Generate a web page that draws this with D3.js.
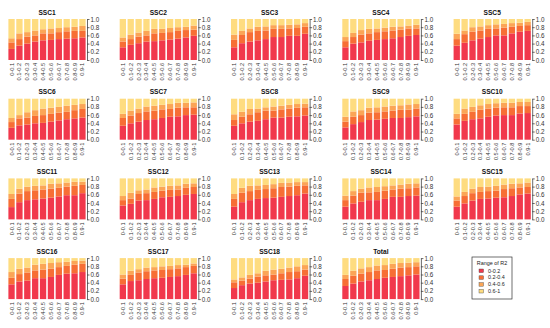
<!DOCTYPE html>
<html>
<head>
<meta charset="utf-8">
<script src="https://cdn.jsdelivr.net/npm/d3@7"></script>
<style>
  body { margin: 0; background: #fff; }
  text { font-family: "Liberation Sans", Arial, sans-serif; }
</style>
</head>
<body>
<div id="chart"></div>
<script>
var svgWidth = 550;
var svgHeight = 328;

// categories on the x axis of every panel
var cats = ["0-0.1", "0.1-0.2", "0.2-0.3", "0.3-0.4", "0.4-0.5",
            "0.5-0.6", "0.6-0.7", "0.7-0.8", "0.8-0.9", "0.9-1"];
var panels = ["SSC1", "SSC2", "SSC3", "SSC4", "SSC5", "SSC6", "SSC7", "SSC8", "SSC9", "SSC10",
              "SSC11", "SSC12", "SSC13", "SSC14", "SSC15", "SSC16", "SSC17", "SSC18", "Total"];
var legendKeys = ["0-0.2", "0.2-0.4", "0.4-0.6", "0.6-1"];
var colors = ["#f1384c", "#f76e35", "#fba556", "#fedc80"];
var yTicks = [0, 0.2, 0.4, 0.6, 0.8, 1.0];

// cumulative share of R2 up to 0.2 (one row per panel, same order as panels)
var le02 = [
  [.27,.35,.40,.45,.48,.49,.51,.52,.53,.55],
  [.31,.37,.41,.45,.46,.48,.50,.52,.55,.59],
  [.31,.41,.45,.48,.51,.56,.56,.59,.59,.64],
  [.31,.40,.43,.47,.49,.51,.53,.56,.59,.61],
  [.35,.42,.48,.52,.56,.60,.60,.65,.69,.71],
  [.29,.35,.37,.40,.41,.44,.47,.50,.52,.54],
  [.34,.40,.44,.48,.50,.53,.56,.57,.60,.61],
  [.34,.40,.44,.46,.50,.54,.54,.56,.57,.59],
  [.30,.38,.43,.48,.49,.51,.53,.53,.55,.57],
  [.37,.46,.50,.52,.56,.59,.60,.60,.64,.65],
  [.30,.42,.47,.49,.51,.53,.56,.59,.59,.64],
  [.34,.38,.46,.47,.50,.54,.55,.57,.60,.62],
  [.31,.42,.47,.50,.52,.53,.55,.57,.59,.63],
  [.31,.39,.43,.47,.47,.50,.55,.55,.57,.58],
  [.31,.39,.46,.50,.51,.53,.54,.57,.61,.63],
  [.36,.43,.45,.51,.51,.54,.59,.62,.63,.66],
  [.36,.44,.46,.49,.51,.52,.54,.56,.59,.63],
  [.27,.34,.38,.40,.43,.46,.47,.48,.51,.57],
  [.32,.38,.43,.46,.49,.52,.54,.56,.58,.60]
];
// cumulative share up to 0.4
var le04 = [
  [.43,.51,.57,.60,.65,.65,.68,.70,.71,.71],
  [.45,.51,.57,.60,.65,.66,.68,.71,.73,.74],
  [.49,.61,.68,.71,.72,.76,.76,.77,.78,.81],
  [.46,.56,.62,.65,.68,.70,.72,.74,.77,.77],
  [.51,.63,.69,.72,.76,.77,.79,.81,.83,.85],
  [.43,.52,.54,.58,.60,.63,.66,.68,.72,.75],
  [.53,.59,.65,.69,.71,.74,.75,.78,.79,.79],
  [.48,.56,.62,.67,.71,.71,.74,.76,.78,.79],
  [.44,.56,.60,.66,.67,.69,.71,.73,.73,.76],
  [.52,.63,.68,.73,.76,.78,.79,.79,.82,.82],
  [.50,.63,.69,.71,.73,.75,.77,.80,.82,.84],
  [.47,.51,.62,.64,.67,.70,.72,.73,.77,.79],
  [.50,.65,.69,.72,.74,.76,.79,.80,.82,.83],
  [.47,.58,.65,.66,.67,.70,.73,.75,.76,.78],
  [.46,.57,.64,.67,.69,.70,.74,.76,.78,.79],
  [.52,.61,.65,.70,.72,.74,.78,.81,.84,.86],
  [.50,.59,.65,.68,.70,.71,.73,.75,.78,.81],
  [.41,.45,.50,.55,.58,.60,.63,.66,.68,.72],
  [.49,.57,.62,.66,.70,.71,.74,.77,.78,.80]
];
// cumulative share up to 0.6 (the rest, up to 1, is 0.6-1)
var le06 = [
  [.53,.65,.68,.72,.75,.77,.78,.80,.81,.83],
  [.55,.62,.67,.71,.76,.76,.78,.80,.81,.84],
  [.62,.71,.77,.81,.82,.85,.85,.86,.87,.90],
  [.56,.66,.73,.76,.77,.79,.81,.82,.84,.86],
  [.64,.72,.80,.82,.85,.87,.88,.90,.91,.93],
  [.53,.60,.67,.72,.76,.78,.80,.83,.85,.87],
  [.63,.71,.76,.81,.83,.85,.87,.90,.90,.91],
  [.62,.68,.75,.76,.79,.81,.83,.85,.87,.88],
  [.56,.69,.72,.78,.79,.81,.83,.84,.86,.87],
  [.63,.76,.80,.84,.87,.89,.90,.90,.92,.92],
  [.62,.75,.80,.82,.83,.87,.88,.90,.92,.92],
  [.57,.65,.71,.73,.78,.80,.82,.83,.87,.88],
  [.62,.77,.82,.83,.84,.86,.89,.90,.91,.91],
  [.58,.69,.75,.78,.79,.81,.83,.85,.87,.88],
  [.56,.67,.75,.79,.80,.82,.85,.87,.88,.90],
  [.66,.74,.77,.84,.86,.88,.90,.91,.93,.94],
  [.60,.69,.73,.77,.78,.80,.81,.83,.84,.87],
  [.48,.53,.59,.63,.69,.72,.74,.77,.80,.83],
  [.59,.69,.75,.78,.82,.83,.86,.88,.89,.90]
];

// panel grid
var nCols = 5;
var left0 = 8, colStep = 111.3;
var top0 = 19, rowStep = 79.7;
var plotW = 78, plotH = 41;

var svg = d3.select("#chart")
  .append("svg")
  .attr("width", svgWidth)
  .attr("height", svgHeight);

var xScale = d3.scaleBand()
  .domain(cats)
  .range([0, plotW])
  .paddingInner(0.2)
  .paddingOuter(0.05);

var yScale = d3.scaleLinear()
  .domain([0, 1])
  .range([plotH, 0]);

panels.forEach(function(name, i) {
  var col = i % nCols;
  var row = Math.floor(i / nCols);
  var g = svg.append("g")
    .attr("transform", `translate(${left0 + col * colStep}, ${top0 + row * rowStep})`);

  // build layer bounds for this panel
  var rows = cats.map(function(c, j) {
    var b = [0, le02[i][j], le04[i][j], le06[i][j], 1];
    return { cat: c, bounds: b };
  });

  legendKeys.forEach(function(k, li) {
    g.selectAll(".bar" + li)
      .data(rows)
      .enter()
      .append("rect")
      .attr("x", d => xScale(d.cat))
      .attr("width", xScale.bandwidth())
      .attr("y", d => yScale(d.bounds[li + 1]))
      .attr("height", d => yScale(d.bounds[li]) - yScale(d.bounds[li + 1]))
      .attr("fill", colors[li]);
  });

  // right axis
  var rightAxis = d3.axisRight(yScale)
    .tickValues(yTicks)
    .tickFormat(d3.format(".1f"))
    .tickSize(2.5)
    .tickSizeOuter(0);
  var ax = g.append("g")
    .attr("transform", `translate(${plotW + 1}, 0)`)
    .call(rightAxis);
  ax.select(".domain").attr("stroke", "#444").attr("stroke-width", 0.8);
  ax.selectAll(".tick line").attr("stroke", "#444").attr("stroke-width", 0.8);
  ax.selectAll(".tick text")
    .attr("x", 3.5)
    .attr("fill", "#333")
    .style("font-size", "6.3px");

  // x labels, rotated
  g.selectAll(".xlab")
    .data(cats)
    .enter()
    .append("text")
    .attr("transform", d => `translate(${xScale(d) + xScale.bandwidth() / 2 + 2}, ${plotH + 3}) rotate(-90)`)
    .attr("text-anchor", "end")
    .attr("fill", "#333")
    .style("font-size", "5.6px")
    .text(d => d);

  // title
  g.append("text")
    .attr("x", plotW / 2)
    .attr("y", -4.5)
    .attr("text-anchor", "middle")
    .style("font-size", "6.6px")
    .style("font-weight", "bold")
    .attr("fill", "#111")
    .text(name);
});

// legend
var legend = svg.append("g")
  .attr("transform", "translate(472, 257)");
legend.append("rect")
  .attr("width", 40)
  .attr("height", 42)
  .attr("fill", "#fff")
  .attr("stroke", "#333")
  .attr("stroke-width", 0.7);
legend.append("text")
  .attr("x", 20)
  .attr("y", 7.5)
  .attr("text-anchor", "middle")
  .style("font-size", "5.4px")
  .attr("fill", "#222")
  .text("Range of R2");
legendKeys.forEach(function(k, li) {
  legend.append("rect")
    .attr("x", 7)
    .attr("y", 12 + li * 6.8)
    .attr("width", 4.5)
    .attr("height", 3.6)
    .attr("fill", colors[li])
    .attr("stroke", "#444")
    .attr("stroke-width", 0.4);
  legend.append("text")
    .attr("x", 16)
    .attr("y", 15.5 + li * 6.8)
    .style("font-size", "5.4px")
    .attr("fill", "#222")
    .text(k);
});
</script>
</body>
</html>
